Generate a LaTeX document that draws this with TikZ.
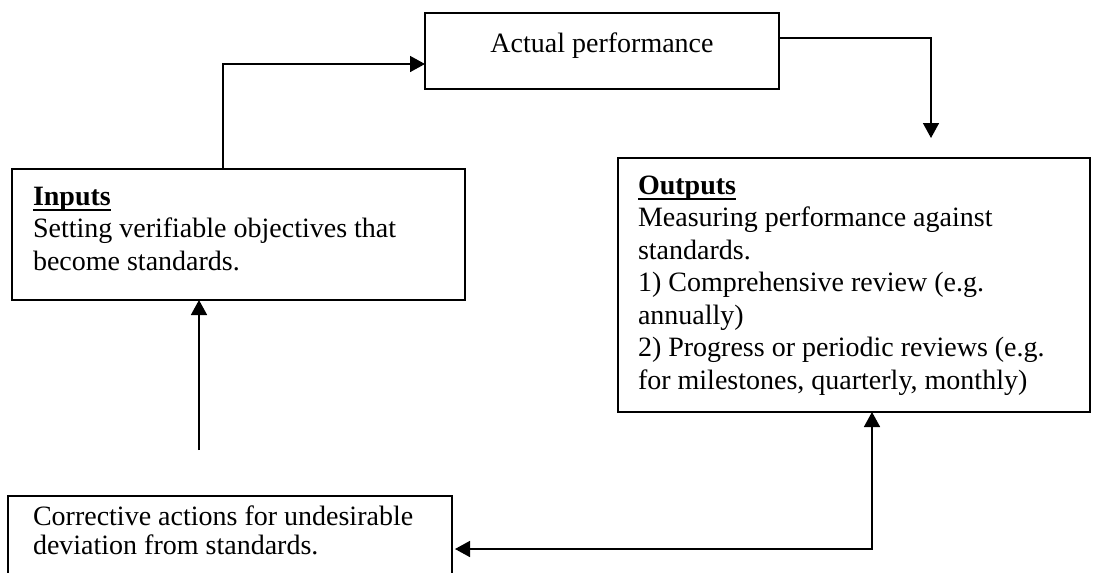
\documentclass[tikz,border=0pt]{standalone}
\usepackage{fontspec}
\setmainfont{Liberation Serif}
\usetikzlibrary{arrows.meta}
\newcommand\ulbox[1]{\setbox0\hbox{#1}\rlap{\rule[-6pt]{\wd0}{1.6pt}}\box0}
\newcommand\firstline{\rule{0pt}{20pt}}
\begin{document}
\begin{tikzpicture}[x=1pt,y=-1pt,
  box/.style={draw,line width=2.6pt,rectangle,inner sep=0pt,outer sep=0pt,anchor=north west},
  txt/.style={anchor=north west,inner sep=0pt,outer sep=0pt,align=left,font=\fontsize{28}{32.5}\selectfont},
  conn/.style={line width=1.6pt,-{Triangle[length=15pt,width=16pt]}},
  biconn/.style={line width=1.6pt,{Triangle[length=15pt,width=16pt]}-{Triangle[length=15pt,width=16pt]}},
]
\useasboundingbox (0,0) rectangle (1093,573);
\clip (0,0) rectangle (1093,573);

% boxes
\node[box,minimum width=354pt,minimum height=76pt] (actual) at (425,13) {};
\node[box,minimum width=453pt,minimum height=131pt] (inputs) at (12,169) {};
\node[box,minimum width=472pt,minimum height=254pt] (outputs) at (618,158) {};
\node[box,minimum width=444pt,minimum height=110pt] (corrective) at (8,496) {};

% texts
\node[anchor=base,inner sep=0pt,font=\fontsize{28}{32.5}\selectfont] (actualtext) at (602,52) {Actual performance};
\node[txt] (inputstext) at (33,185) {\firstline\ulbox{\textbf{Inputs}}\\
Setting verifiable objectives that\\
become standards.};
\node[txt] (outputstext) at (638,174) {\firstline\ulbox{\textbf{Outputs}}\\
Measuring performance against\\
standards.\\
1) Comprehensive review (e.g.\\
annually)\\
2) Progress or periodic reviews (e.g.\\
for milestones, quarterly, monthly)};
\node[txt,font=\fontsize{28}{29.5}\selectfont] (correctivetext) at (33,505) {\firstline Corrective actions for undesirable\\
deviation from standards.};

% bend points
\coordinate (c1) at (223,64);
\coordinate (c2) at (931,38);
\coordinate (c2end) at (931,138);
\coordinate (c3) at (199,450);
\coordinate (c4) at (872,549);
\coordinate (c4end) at (455,549);

% connectors
\draw[conn] (c1 |- inputs.north) -- (c1) -- (c1 -| actual.west);
\draw[conn] (c2 -| actual.east) -- (c2) -- (c2end);
\draw[conn] (c3) -- (c3 |- inputs.south);
\draw[biconn] (c4 |- outputs.south) -- (c4) -- (c4end);
\end{tikzpicture}
\end{document}
